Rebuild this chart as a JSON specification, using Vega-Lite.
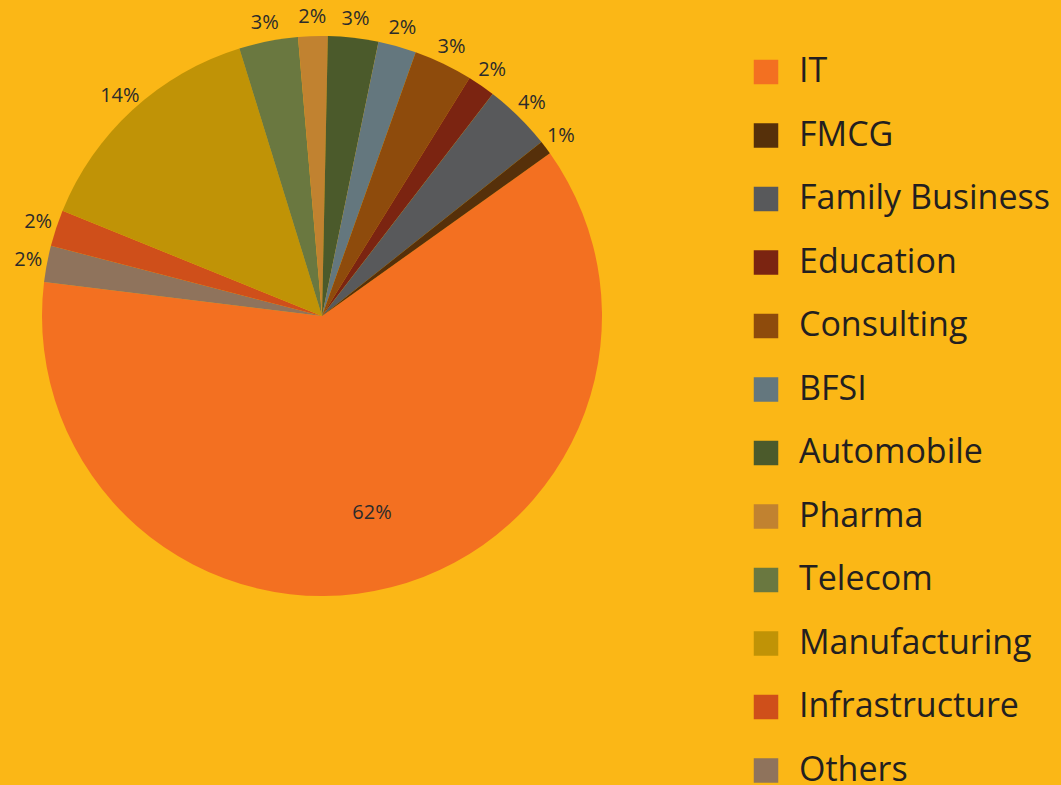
{
  "$schema": "https://vega.github.io/schema/vega-lite/v6.json",
  "autosize": {"type": "none"},
  "width": 644,
  "height": 632,
  "padding": {"left": 0, "top": 0, "right": 417, "bottom": 153},
  "background": "#FBB716",
  "config": {"view": {"stroke": null}},
  "data": {
    "values": [
      {"category": "IT", "idx": 1, "value": 0.618},
      {"category": "Others", "idx": 2, "value": 0.021},
      {"category": "Infrastructure", "idx": 3, "value": 0.021},
      {"category": "Manufacturing", "idx": 4, "value": 0.141},
      {"category": "Telecom", "idx": 5, "value": 0.034},
      {"category": "Pharma", "idx": 6, "value": 0.017},
      {"category": "Automobile", "idx": 7, "value": 0.029},
      {"category": "BFSI", "idx": 8, "value": 0.022},
      {"category": "Consulting", "idx": 9, "value": 0.034},
      {"category": "Education", "idx": 10, "value": 0.016},
      {"category": "Family Business", "idx": 11, "value": 0.039},
      {"category": "FMCG", "idx": 12, "value": 0.008}
    ]
  },
  "encoding": {
    "theta": {"field": "value", "type": "quantitative", "stack": true, "scale": {"range": [0.951, 7.234]}},
    "order": {"field": "idx", "type": "quantitative"}
  },
  "layer": [
    {
      "mark": {"type": "arc", "outerRadius": 280, "stroke": null},
      "encoding": {
        "color": {
          "field": "category",
          "type": "nominal",
          "scale": {
            "domain": ["IT", "FMCG", "Family Business", "Education", "Consulting", "BFSI", "Automobile", "Pharma", "Telecom", "Manufacturing", "Infrastructure", "Others"],
            "range": ["#F37021", "#56300A", "#58595B", "#7B2411", "#8E4B0C", "#64777E", "#4B5A2B", "#C18230", "#6A7840", "#C09306", "#CF4F1A", "#8F735C"]
          },
          "legend": {
            "title": null,
            "orient": "none",
            "legendX": 749,
            "legendY": 55,
            "symbolType": "square",
            "symbolSize": 600,
            "symbolOpacity": 1,
            "symbolStrokeWidth": 0,
            "labelFont": "Open Sans",
            "labelFontSize": 34,
            "labelColor": "#231F20",
            "labelOffset": 16,
            "labelLimit": 400,
            "rowPadding": 29.5
          }
        }
      }
    },
    {
      "mark": {"type": "text", "font": "Open Sans", "fontSize": 20, "color": "#2B2B2B"},
      "encoding": {
        "radius": {"value": 299},
        "text": {"condition": {"test": "datum.category !== 'IT'", "field": "value", "type": "quantitative", "format": ".0%"}, "value": ""}
      }
    },
    {
      "mark": {"type": "text", "font": "Open Sans", "fontSize": 20, "color": "#2B2B2B"},
      "encoding": {
        "radius": {"value": 203},
        "text": {"condition": {"test": "datum.category === 'IT'", "field": "value", "type": "quantitative", "format": ".0%"}, "value": ""}
      }
    }
  ]
}
